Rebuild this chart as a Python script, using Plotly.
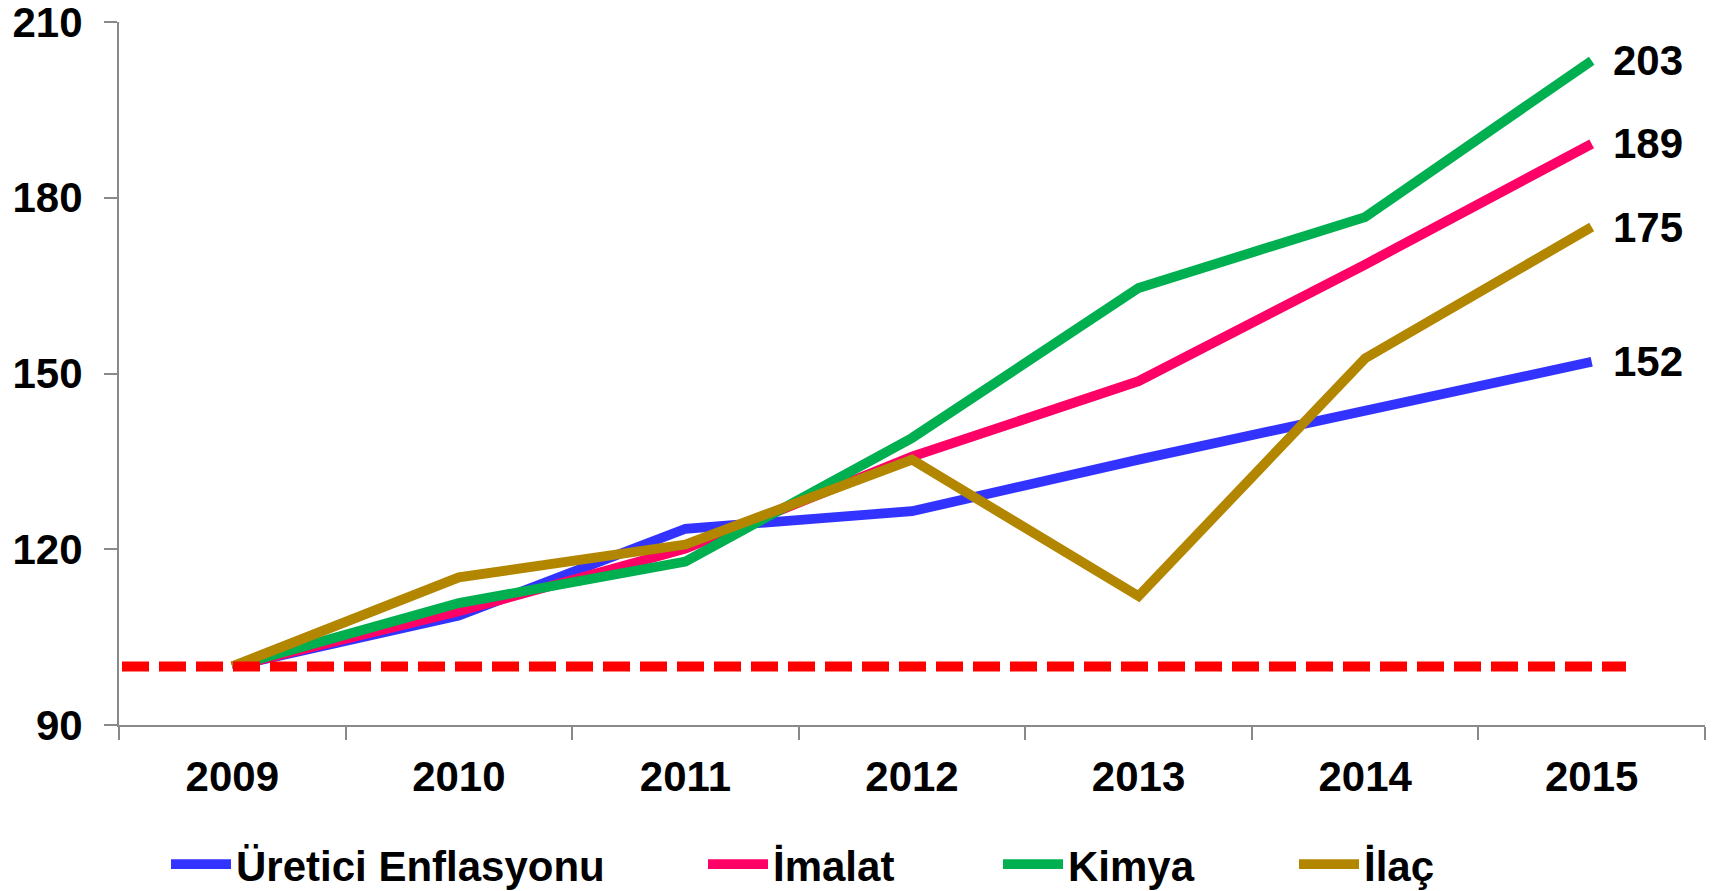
import plotly.graph_objects as go

YEARS = ["2009", "2010", "2011", "2012", "2013", "2014", "2015"]
URETICI = [100.0, 108.7, 123.5, 126.5, 135.3, 143.8, 152.0]
IMALAT = [100.0, 109.4, 120.1, 135.8, 148.7, 168.6, 189.2]
KIMYA = [100.0, 110.8, 117.9, 139.0, 164.6, 176.7, 203.4]
ILAC = [100.0, 115.2, 120.8, 135.3, 112.0, 152.6, 175.0]
BASE = 100
SERIES_NAMES = ["Üretici Enflasyonu", "İmalat", "Kimya", "İlaç"]
Y_TICKS = [90, 120, 150, 180, 210]

COLORS = ["#3333FF", "#FF0066", "#00B050", "#B38600"]
FONT = "Liberation Sans, Arial, sans-serif"
FS = 42
W, H = 1723, 891
L, R, T, B = 111, 26, 14, 173.5
PW = W - L - R
PH = H - T - B

fig = go.Figure()
series = [URETICI, IMALAT, KIMYA, ILAC]
legend_ids = ["legend", "legend2", "legend3", "legend4"]
last_idx = len(YEARS) - 1
for name, vals, col, lid in zip(SERIES_NAMES, series, COLORS, legend_ids):
    fig.add_trace(go.Scatter(
        x=YEARS, y=vals, name=name, mode="lines",
        line=dict(color=col, width=9.8),
        legend=lid, hoverinfo="skip",
    ))
    fig.add_annotation(
        x=last_idx, y=vals[-1], text=f"<b>{round(vals[-1])}</b>",
        xref="x", yref="y",
        xanchor="left", yanchor="middle", xshift=19, showarrow=False,
        font=dict(family=FONT, size=FS, color="black"),
    )

# red dashed baseline (fractions of the plot width)
fig.add_shape(type="line", xref="paper", yref="y",
              x0=3 / PW, x1=1507 / PW, y0=BASE, y1=BASE,
              line=dict(color="#FF0000", width=10, dash="27px,10px"),
              layer="above")

# legend box left edges in page px
leg_px = [158, 695, 990, 1286]
layout_legends = {}
for lid, px in zip(legend_ids, leg_px):
    layout_legends[lid] = dict(
        orientation="h", x=(px - L) / PW, xanchor="left",
        y=(T + PH - 857) / PH, yanchor="middle",
        font=dict(family=FONT, size=FS, color="black", weight="bold"),
        bgcolor="rgba(0,0,0,0)", itemwidth=60, borderwidth=0,
    )

fig.update_layout(
    width=W, height=H,
    margin=dict(l=L, r=R, t=T, b=B, autoexpand=False),
    plot_bgcolor="white", paper_bgcolor="white",
    font=dict(family=FONT, size=FS, color="black"),
    showlegend=True,
    xaxis=dict(
        type="category", range=[-0.5, 6.5], showgrid=False, zeroline=False,
        showline=True, linecolor="#898989", linewidth=2, automargin=False,
        ticks="outside", tickson="boundaries", ticklen=13, tickwidth=2,
        tickcolor="#898989",
        tickfont=dict(family=FONT, size=FS, color="black", weight="bold"),
        ticklabelstandoff=14,
    ),
    yaxis=dict(
        range=[90, 210], tickvals=Y_TICKS, showgrid=False, zeroline=False,
        showline=True, linecolor="#898989", linewidth=2, automargin=False,
        ticks="outside", ticklen=13, tickwidth=2, tickcolor="#898989",
        tickfont=dict(family=FONT, size=FS, color="black", weight="bold"),
        ticklabelstandoff=13, ticklabeloverflow="allow",
    ),
    **layout_legends,
)

fig.write_html("out.html")
